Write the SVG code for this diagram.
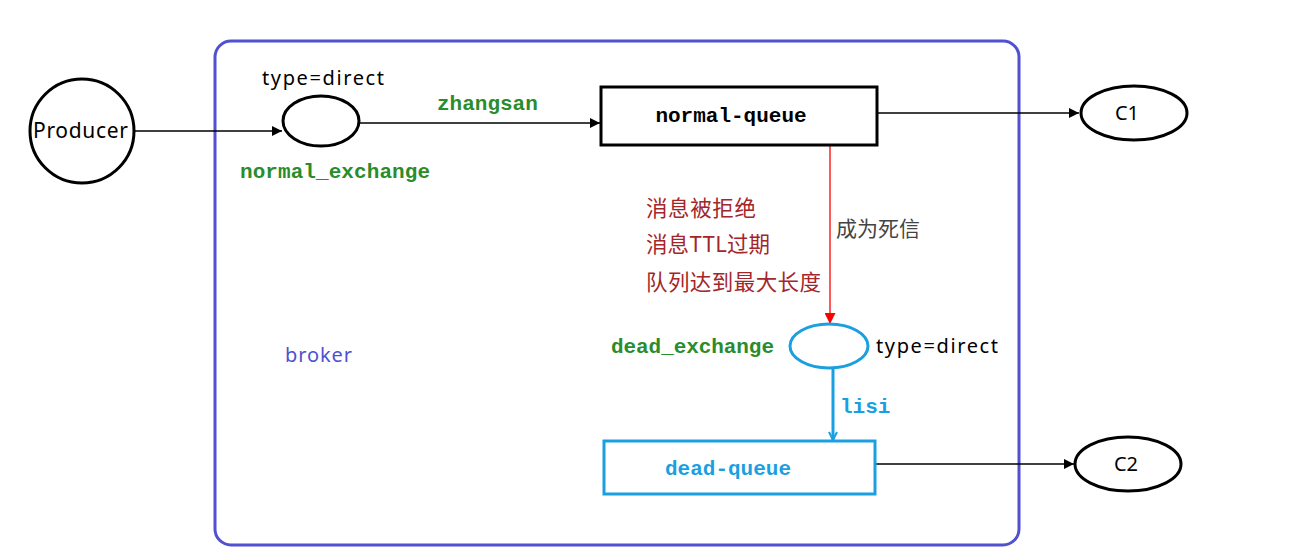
<svg xmlns="http://www.w3.org/2000/svg" width="1293" height="556" viewBox="0 0 1293 556">
<defs>
<style>
.sans{font-family:"Noto Sans","Noto Sans CJK SC",sans-serif;}
.cjk{font-family:"Noto Sans CJK SC","Noto Sans",sans-serif;}
.mono{font-family:"Liberation Mono","DejaVu Sans Mono",monospace;font-weight:bold;font-size:21px;}
.green{fill:#2a8c2a;}
.blue{fill:#1a9fe0;}
.red{fill:#a3262a;font-size:21.5px;}
.blk{fill:none;stroke:#000;stroke-width:3;}
.ln{fill:none;stroke:#000;stroke-width:1.3;}
</style>
<marker id="ah" viewBox="0 0 10 10" refX="10" refY="5" markerWidth="10" markerHeight="10" markerUnits="userSpaceOnUse" orient="auto">
<path d="M0,0 L10,5 L0,10 z" fill="#000"/>
</marker>
<marker id="ahr" viewBox="0 0 10 10" refX="10" refY="5" markerWidth="11" markerHeight="11" markerUnits="userSpaceOnUse" orient="auto">
<path d="M0,0 L10,5 L0,10 z" fill="#ff0000"/>
</marker>
<marker id="ahb" viewBox="0 0 10 10" refX="9" refY="5" markerWidth="10" markerHeight="10" markerUnits="userSpaceOnUse" orient="auto">
<path d="M1,1 L9,5 L1,9" fill="none" stroke="#1a9fe0" stroke-width="2"/>
</marker>
</defs>
<rect width="1293" height="556" fill="#fff"/>

<g id="broker">
<rect x="215" y="41" width="804" height="504" rx="16" ry="16" fill="none" stroke="#5050d0" stroke-width="3"/>
<text x="285" y="362" class="sans" font-size="20" fill="#5050d0" textLength="67">broker</text>
</g>

<g id="connectors">
<line x1="135" y1="131" x2="282" y2="131" class="ln" marker-end="url(#ah)"/>
<line x1="359" y1="123" x2="600" y2="123" class="ln" marker-end="url(#ah)"/>
<line x1="878" y1="113" x2="1079" y2="113" class="ln" marker-end="url(#ah)"/>
<line x1="830" y1="146" x2="830" y2="324" fill="none" stroke="#ff0000" stroke-width="1.3" marker-end="url(#ahr)"/>
<line x1="833" y1="368" x2="833" y2="440" fill="none" stroke="#1a9fe0" stroke-width="3" marker-end="url(#ahb)"/>
<line x1="876" y1="464" x2="1074" y2="464" class="ln" marker-end="url(#ah)"/>
<text x="437" y="110" class="mono green">zhangsan</text>
<text x="836" y="236" class="cjk" font-size="21" fill="#444">成为死信</text>
<text x="840" y="413" class="mono blue">lisi</text>
</g>

<g id="producer">
<circle cx="82" cy="131" r="52" class="blk"/>
<text x="33" y="138" class="sans" font-size="21" fill="#000" textLength="95">Producer</text>
</g>

<g id="normal_exchange">
<ellipse cx="321" cy="121" rx="38" ry="25" class="blk"/>
<text x="262" y="85" class="sans" font-size="20" fill="#000" textLength="122">type=direct</text>
<text x="240" y="178" class="mono green" textLength="190">normal_exchange</text>
</g>

<g id="normal_queue">
<rect x="601" y="87" width="276" height="58" class="blk"/>
<text x="731" y="122" class="mono" fill="#000" text-anchor="middle">normal-queue</text>
</g>

<g id="c1">
<ellipse cx="1134" cy="113" rx="53" ry="27" class="blk"/>
<text x="1127" y="120" class="sans" font-size="20" fill="#000" text-anchor="middle">C1</text>
</g>

<g id="reasons">
<text x="646" y="216" class="cjk red" textLength="110">消息被拒绝</text>
<text x="646" y="252" class="cjk red" textLength="124">消息TTL过期</text>
<text x="646" y="290" class="cjk red" textLength="175">队列达到最大长度</text>
</g>

<g id="dead_exchange">
<ellipse cx="829" cy="346" rx="39" ry="22" fill="none" stroke="#1a9fe0" stroke-width="3"/>
<text x="611" y="353" class="mono green" textLength="163">dead_exchange</text>
<text x="876" y="353" class="sans" font-size="20" fill="#000" textLength="122">type=direct</text>
</g>

<g id="dead_queue">
<rect x="604" y="441" width="271" height="53" fill="none" stroke="#1a9fe0" stroke-width="3"/>
<text x="728" y="475" class="mono blue" text-anchor="middle">dead-queue</text>
</g>

<g id="c2">
<ellipse cx="1128" cy="464" rx="53" ry="27" class="blk"/>
<text x="1126" y="471" class="sans" font-size="20" fill="#000" text-anchor="middle">C2</text>
</g>
</svg>
